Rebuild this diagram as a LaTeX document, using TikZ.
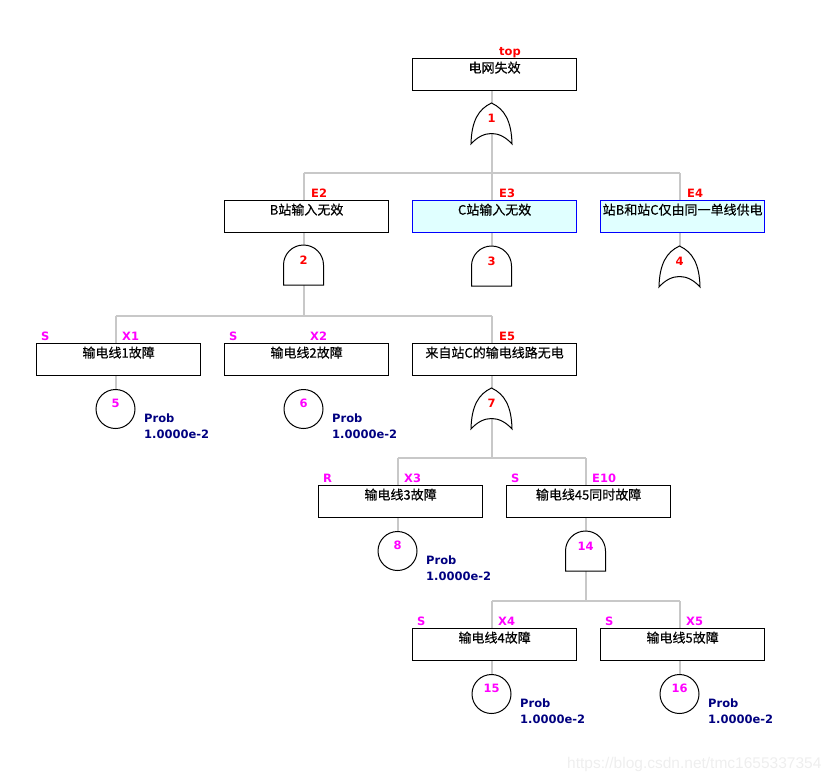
\documentclass[tikz,border=0pt]{standalone}
\usepackage{fontspec}
\setmainfont{DejaVu Sans}
\newfontfamily\cjkfont{Noto Sans CJK SC}[FakeBold=0.4]
\newfontfamily\labfont{DejaVu Sans}
\newfontfamily\wmfont{Liberation Sans}
\pgfdeclarelayer{bg}
\pgfsetlayers{bg,main}
\definecolor{connc}{RGB}{200,200,200}
\definecolor{idred}{RGB}{255,0,0}
\definecolor{idmag}{RGB}{255,0,255}
\definecolor{probc}{RGB}{0,0,128}
\definecolor{cyanfill}{RGB}{224,255,255}
\definecolor{bluebord}{RGB}{0,0,255}
\definecolor{wmc}{RGB}{238,238,238}
\tikzset{
  evbox/.style={draw=black, line width=1.2pt, fill=white, anchor=north west,
    minimum width=164pt, minimum height=32pt, inner sep=0pt,
    text height=14pt, text depth=18pt, text width=164pt, align=center,
    font=\cjkfont\fontsize{13}{15}\selectfont},
  cyanbox/.style={evbox, draw=bluebord, fill=cyanfill, line width=1.3pt},
  conn/.style={draw=connc, line width=2pt},
  gateline/.style={draw=black, fill=white, line width=1pt},
  basicev/.style={circle, draw=black, fill=white, line width=1pt, minimum size=39pt, inner sep=0pt},
  idlab/.style={anchor=base west, inner sep=0pt, text=idred, font=\labfont\bfseries\fontsize{11.5}{13}\selectfont},
  typlab/.style={idlab, text=idmag},
  gnum/.style={inner sep=0pt, text=idred, font=\labfont\bfseries\fontsize{11.5}{13}\selectfont},
  cnum/.style={gnum, text=idmag},
  problab/.style={anchor=base west, inner sep=0pt, text=probc,
    font=\labfont\bfseries\fontsize{11.5}{16}\selectfont},
  orgate/.pic={\path[gateline] (0,0) .. controls (-13,6) and (-20,18) .. (-20.5,41)
      .. controls (-8,27) and (8,27) .. (20.5,41)
      .. controls (20,18) and (13,6) .. (0,0) -- cycle;},
  andgate/.pic={\path[gateline] (-20,40) -- (-20,20) .. controls (-20,8.95) and (-11.05,0) .. (0,0)
      .. controls (11.05,0) and (20,8.95) .. (20,20) -- (20,40) -- cycle;}
}
\begin{document}
\begin{tikzpicture}[x=1pt,y=-1pt]
\useasboundingbox (0,0) rectangle (835,782);
% boxes
\node[evbox] (top) at (412,58) {电网失效};
\node[evbox] (e2) at (224,200) {B站输入无效};
\node[cyanbox] (e3) at (412,200) {C站输入无效};
\node[cyanbox] (e4) at (600,200) {站B和站C仅由同一单线供电};
\node[evbox] (x1) at (36,343) {输电线1故障};
\node[evbox] (x2) at (224,343) {输电线2故障};
\node[evbox] (e5) at (412,343) {来自站C的输电线路无电};
\node[evbox] (x3) at (318,485) {输电线3故障};
\node[evbox] (e10) at (506,485) {输电线45同时故障};
\node[evbox] (x4) at (412,628) {输电线4故障};
\node[evbox] (x5) at (600,628) {输电线5故障};
% id labels
\node[idlab] (ltop) at (499,55) {top};
\node[idlab] (le2) at (311,197) {E2};
\node[idlab] (le3) at (499,197) {E3};
\node[idlab] (le4) at (687,197) {E4};
\node[typlab] (sx1) at (41,340) {S};
\node[typlab] (lx1) at (122,340) {X1};
\node[typlab] (sx2) at (229,340) {S};
\node[typlab] (lx2) at (310,340) {X2};
\node[idlab] (le5) at (499,340) {E5};
\node[typlab] (sx3) at (323,482) {R};
\node[typlab] (lx3) at (404,482) {X3};
\node[typlab] (se10) at (511,482) {S};
\node[typlab] (le10) at (592,482) {E10};
\node[typlab] (sx4) at (417,625) {S};
\node[typlab] (lx4) at (498,625) {X4};
\node[typlab] (sx5) at (605,625) {S};
\node[typlab] (lx5) at (686,625) {X5};
% gates
\coordinate (g1) at (491.5,103);
\coordinate (g2) at (303.5,245);
\coordinate (g3) at (491.5,246);
\coordinate (g4) at (679.5,246);
\coordinate (g7) at (491.5,388);
\coordinate (g14) at (585.5,531);
\pic at (g1) {orgate};
\pic at (g2) {andgate};
\pic at (g3) {andgate};
\pic at (g4) {orgate};
\pic at (g7) {orgate};
\pic at (g14) {andgate};
\node[gnum] (n1) at (491.5,118) {1};
\node[gnum] (n2) at (303.5,260) {2};
\node[gnum] (n3) at (491.5,261) {3};
\node[gnum] (n4) at (679.5,261) {4};
\node[gnum] (n7) at (491.5,403) {7};
\node[cnum] (n14) at (585.5,546) {14};
% basic events
\node[basicev] (b5) at (115.5,409) {};
\node[basicev] (b6) at (303.5,409) {};
\node[basicev] (b8) at (397.5,551) {};
\node[basicev] (b15) at (491.5,694) {};
\node[basicev] (b16) at (679.5,694) {};
\node[cnum] (n5) at (115.5,403) {5};
\node[cnum] (n6) at (303.5,403) {6};
\node[cnum] (n8) at (397.5,545) {8};
\node[cnum] (n15) at (491.5,688) {15};
\node[cnum] (n16) at (679.5,688) {16};
\node[problab] (p5a) at (144,422) {Prob};
\node[problab] (p5b) at (144,438) {1.0000e-2};
\node[problab] (p6a) at (332,422) {Prob};
\node[problab] (p6b) at (332,438) {1.0000e-2};
\node[problab] (p8a) at (426,564) {Prob};
\node[problab] (p8b) at (426,580) {1.0000e-2};
\node[problab] (p15a) at (520,707) {Prob};
\node[problab] (p15b) at (520,723) {1.0000e-2};
\node[problab] (p16a) at (708,707) {Prob};
\node[problab] (p16b) at (708,723) {1.0000e-2};
% junctions
\coordinate (j1) at (491.5,173);
\coordinate (j1l) at (303.5,173);
\coordinate (j1r) at (679.5,173);
\coordinate (j2) at (303.5,316);
\coordinate (j2l) at (115.5,316);
\coordinate (j2r) at (491.5,316);
\coordinate (j3) at (491.5,458);
\coordinate (j3l) at (397.5,458);
\coordinate (j3r) at (585.5,458);
\coordinate (j4) at (585.5,601);
\coordinate (j4l) at (491.5,601);
\coordinate (j4r) at (679.5,601);
\begin{pgfonlayer}{bg}
\draw[conn] (top.south -| g1) -- (j1);
\draw[conn] (j1l) -- (j1r);
\draw[conn] (j1l) -- (j2);
\draw[conn] (j1) -- (g3);
\draw[conn] (j1r) -- (g4);
\draw[conn] (j2l) -- (j2r);
\draw[conn] (j2l) -- (b5.north);
\draw[conn] (j2r) -- (j3);
\draw[conn] (j3l) -- (j3r);
\draw[conn] (j3l) -- (b8.north);
\draw[conn] (j3r) -- (j4);
\draw[conn] (j4l) -- (j4r);
\draw[conn] (j4l) -- (b15.north);
\draw[conn] (j4r) -- (b16.north);
\end{pgfonlayer}
% watermark
\node[anchor=west, inner sep=0pt, text=wmc, font=\wmfont\fontsize{15.5}{17}\selectfont] (wm) at (567,764) {https://blog.csdn.net/tmc1655337354};
\end{tikzpicture}
\end{document}
